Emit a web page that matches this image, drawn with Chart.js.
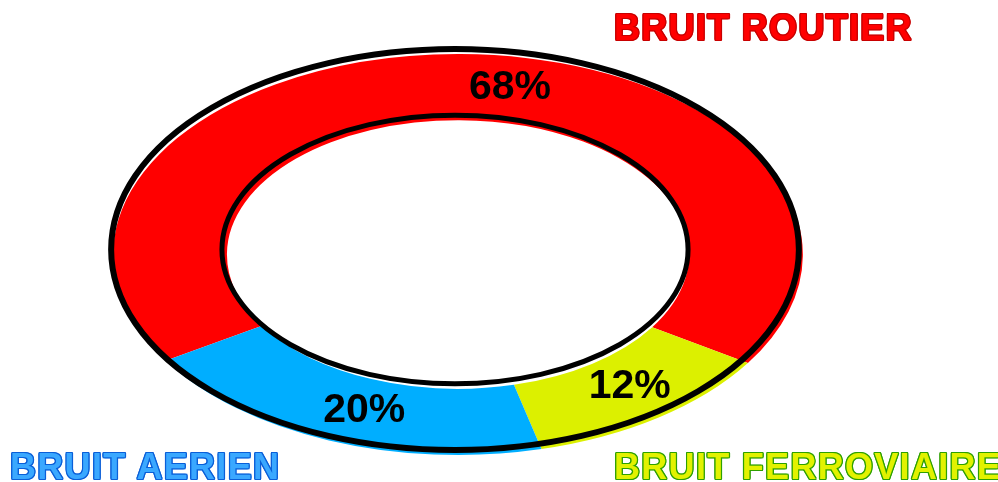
<!DOCTYPE html>
<html>
<head>
<meta charset="utf-8">
<script src="https://cdn.jsdelivr.net/npm/chart.js@4.4.1/dist/chart.umd.min.js"></script>
<style>
    html, body { margin: 0; padding: 0; background: #fff; }
    #wrap { position: relative; width: 998px; height: 482px; overflow: hidden; }
    #chart { position: absolute; left: 0; top: 0; }
    .cat {
        position: absolute;
        font-family: "Liberation Sans", Arial, sans-serif;
        font-weight: bold;
        font-size: 36px;
        line-height: 36px;
        white-space: nowrap;
        letter-spacing: 1.3px;
    }
</style>
</head>
<body>
<div id="wrap">
    <canvas id="chart" width="998" height="482"></canvas>
</div>
<script>
const categories = ['BRUIT ROUTIER', 'BRUIT FERROVIAIRE', 'BRUIT AERIEN'];
const shares = [68, 12, 20];
const sliceColors = ['#ff0000', '#dcf000', '#00aeff'];

// label look, same order as categories
const labelFill = ['#ff0000', '#e2f200', '#3aa8ff'];
const labelEdge = ['#c80000', '#2ea000', '#0a5fd8'];
const labelSpots = [
    { left: 614, top: 10 },
    { left: 614, top: 449 },
    { left: 10, top: 449 }
];

const KX = 1.72;                 // horizontal squash of the ring
const pctNudge = [10, -1, -3];   // degrees, moves the % text along the ring

document.addEventListener('DOMContentLoaded', function() {
    addCategoryLabels();
    drawRing();
});

function addCategoryLabels() {
    const wrap = document.getElementById('wrap');
    categories.forEach((name, i) => {
        const el = document.createElement('div');
        el.className = 'cat';
        el.textContent = name;
        el.style.left = labelSpots[i].left + 'px';
        el.style.top = labelSpots[i].top + 'px';
        el.style.color = labelFill[i];
        const c = labelEdge[i];
        el.style.textShadow = [
            `-1.2px 0 0 ${c}`, `1.2px 0 0 ${c}`, `0 -1.2px 0 ${c}`, `0 1.2px 0 ${c}`,
            `-1px -1px 0 ${c}`, `1px -1px 0 ${c}`, `-1px 1px 0 ${c}`, `1px 1px 0 ${c}`
        ].join(',');
        wrap.appendChild(el);
    });
}

const ellipsePlugin = {
    id: 'ellipse',
    beforeDatasetsDraw(chart) {
        const arc = chart.getDatasetMeta(0).data[0];
        const ctx = chart.ctx;
        ctx.save();
        ctx.translate(arc.x, 0);
        ctx.scale(KX, 1);
        ctx.translate(-arc.x, 0);
    },
    afterDatasetsDraw(chart) {
        const ctx = chart.ctx;
        ctx.restore();

        const arcs = chart.getDatasetMeta(0).data;
        const cx = arcs[0].x, cy = arcs[0].y;
        const outer = arcs[0].outerRadius, inner = arcs[0].innerRadius;

        // black rim, shifted up-left like the original drawing
        ctx.save();
        ctx.strokeStyle = '#000';
        ctx.lineWidth = 6;
        ctx.beginPath();
        ctx.ellipse(cx - 3, cy - 5, outer * KX - 1, outer, 0, 0, Math.PI * 2);
        ctx.stroke();
        ctx.lineWidth = 5;
        ctx.beginPath();
        ctx.ellipse(cx - 3, cy - 5, inner * KX + 2, inner, 0, 0, Math.PI * 2);
        ctx.stroke();
        ctx.restore();

        // percentages
        ctx.save();
        ctx.font = 'bold 41px "Liberation Sans", Arial, sans-serif';
        ctx.fillStyle = '#000';
        ctx.textAlign = 'center';
        ctx.textBaseline = 'middle';
        arcs.forEach((a, i) => {
            const mid = (a.startAngle + a.endAngle) / 2 + pctNudge[i] * Math.PI / 180;
            const r = (a.innerRadius + a.outerRadius) / 2;
            const x = cx + Math.cos(mid) * r * KX;
            const y = cy + Math.sin(mid) * r - 2;
            ctx.fillText(shares[i] + '%', x, y);
        });
        ctx.restore();
    }
};

function drawRing() {
    const ctx = document.getElementById('chart').getContext('2d');
    new Chart(ctx, {
        type: 'doughnut',
        data: {
            labels: categories,
            datasets: [{
                data: shares,
                backgroundColor: sliceColors,
                borderWidth: 0,
                hoverOffset: 0
            }]
        },
        options: {
            responsive: false,
            animation: false,
            cutout: '67%',
            rotation: 238,
            layout: { padding: { top: 54, bottom: 27, left: 0, right: 82 } },
            events: [],
            plugins: {
                legend: { display: false },
                tooltip: { enabled: false },
                title: { display: false }
            }
        },
        plugins: [ellipsePlugin]
    });
}
</script>
</body>
</html>
